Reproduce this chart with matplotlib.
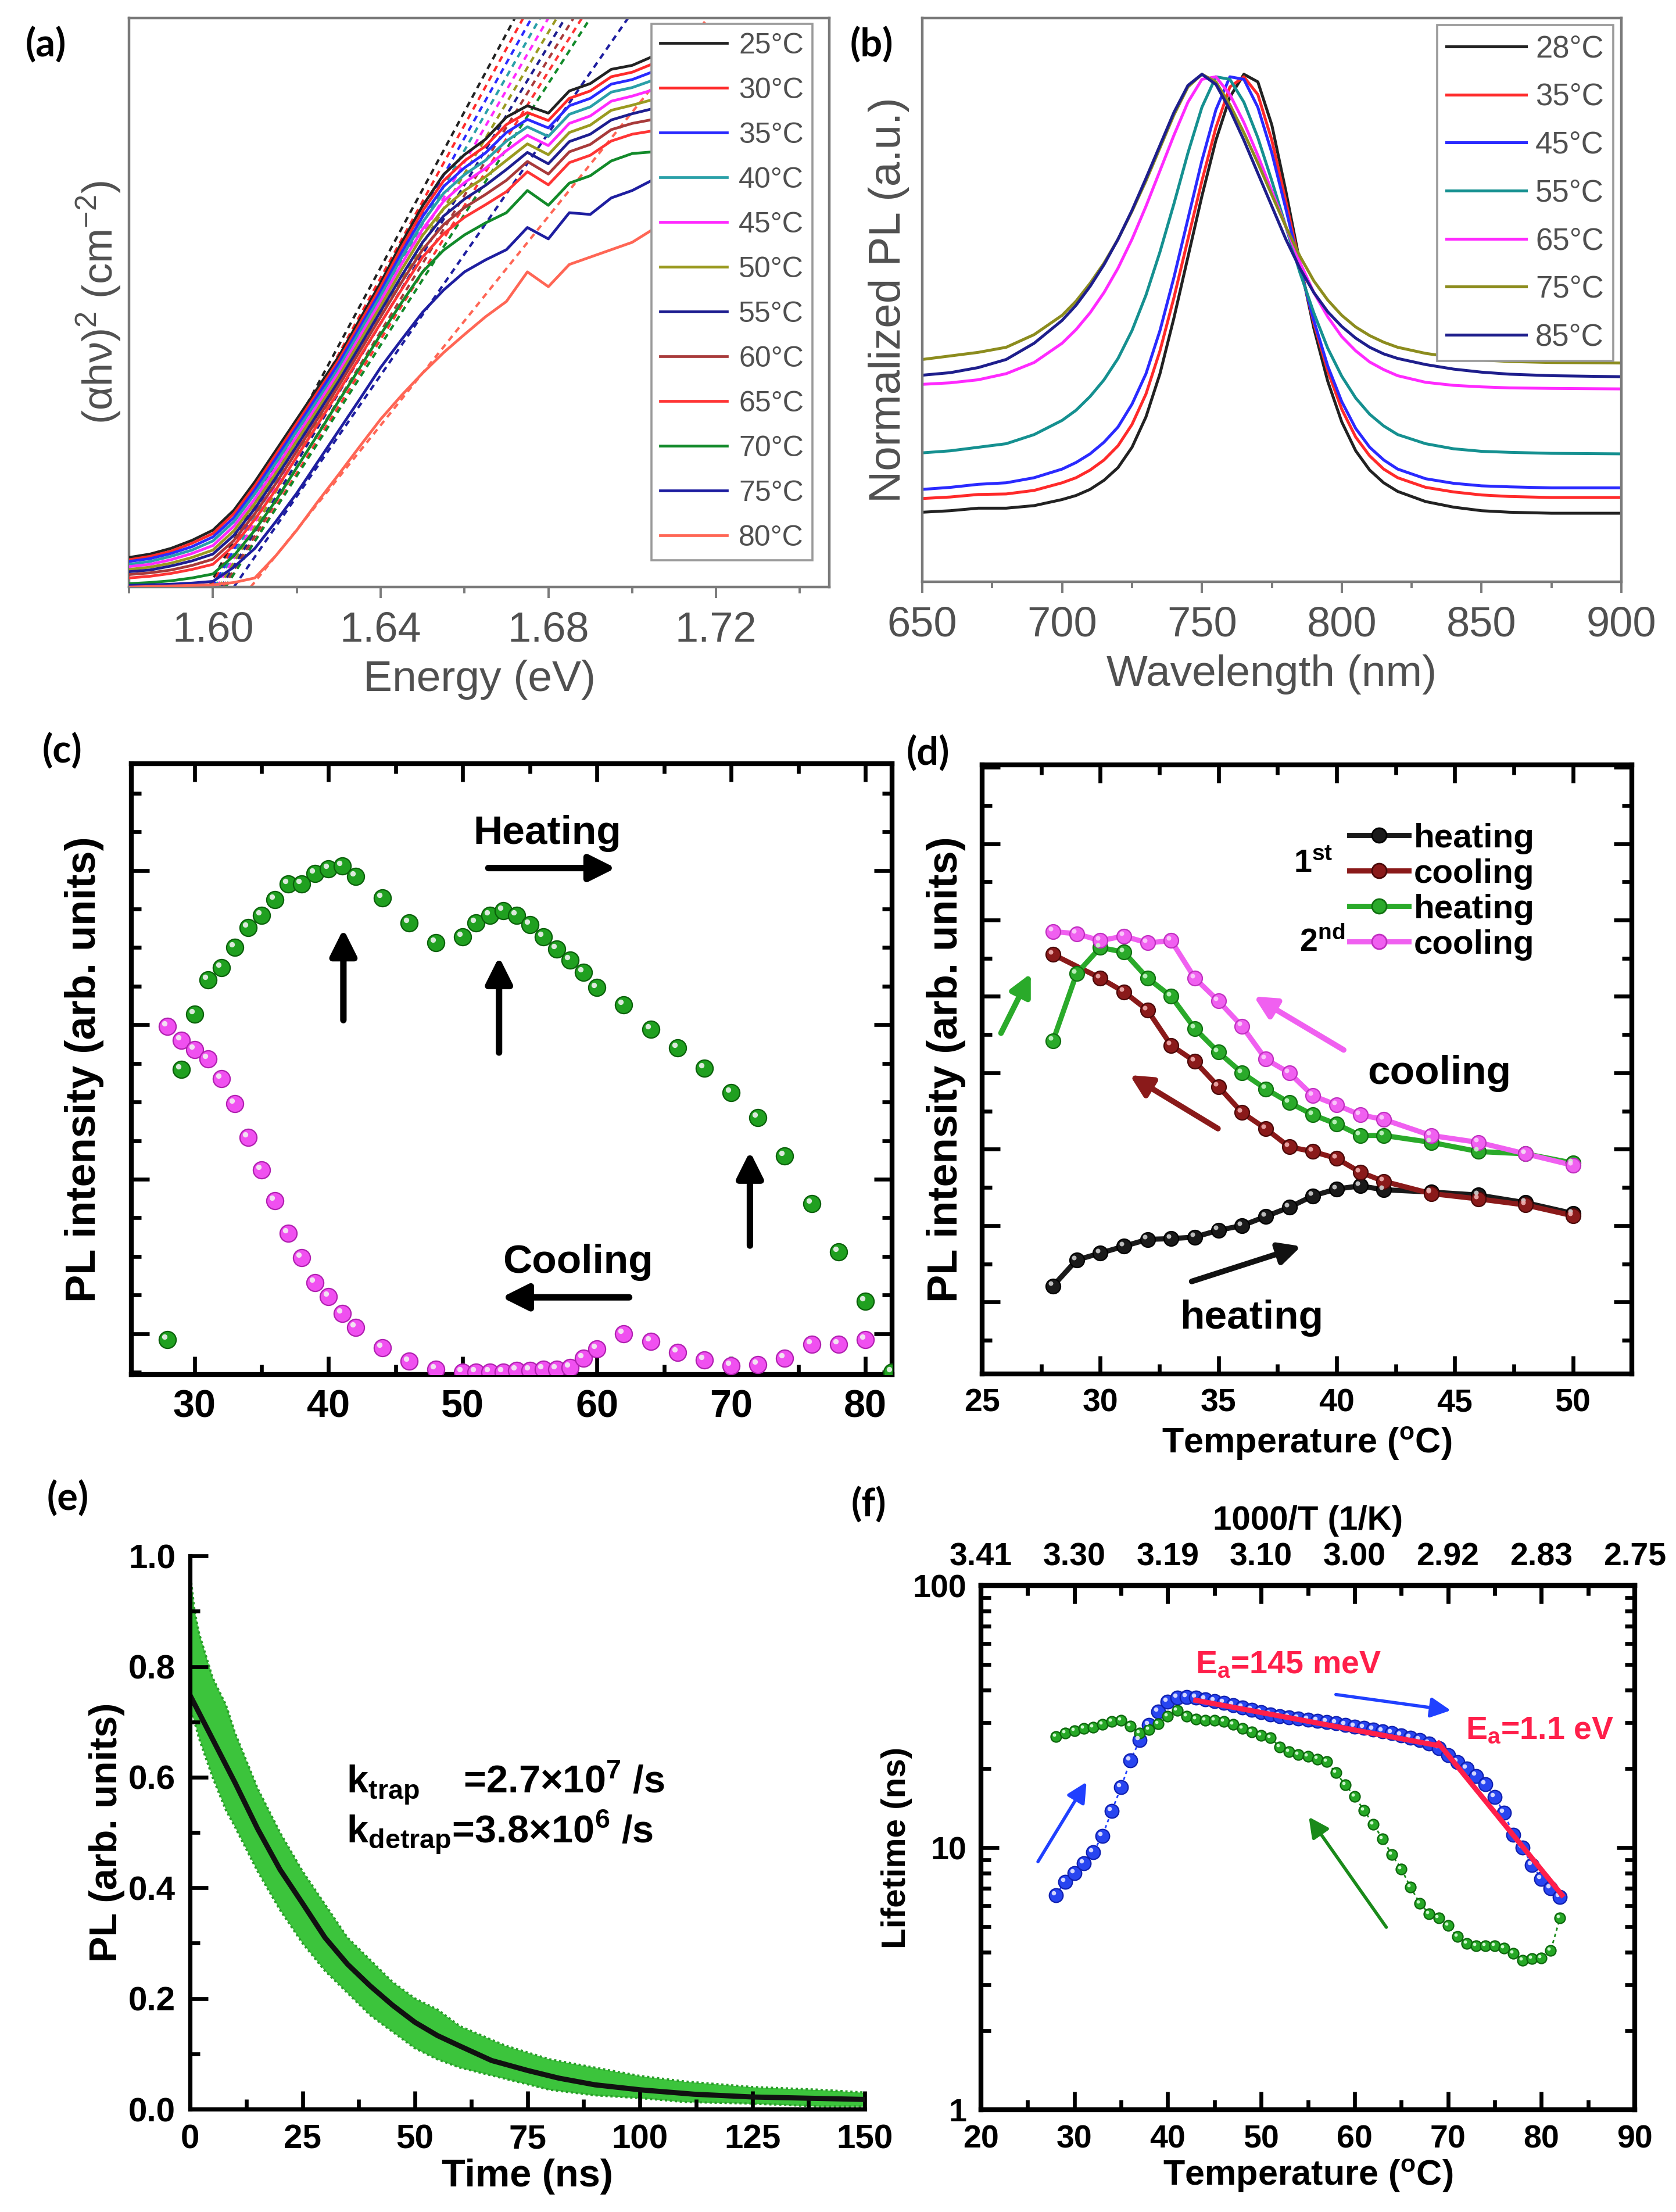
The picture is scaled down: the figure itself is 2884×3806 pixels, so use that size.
import numpy as np
import matplotlib
matplotlib.use("Agg")
import matplotlib.pyplot as plt
from matplotlib.transforms import offset_copy
from matplotlib.lines import Line2D
from matplotlib.ticker import MultipleLocator, FormatStrFormatter, LogLocator, NullFormatter

plt.rcParams['font.family'] = ['Liberation Sans', 'DejaVu Sans']
plt.rcParams['mathtext.fontset'] = 'custom'
plt.rcParams['mathtext.rm'] = 'Liberation Sans'
plt.rcParams['mathtext.it'] = 'Liberation Sans:italic'
plt.rcParams['mathtext.bf'] = 'Liberation Sans:bold'
plt.rcParams['mathtext.default'] = 'regular'

# ---------------- (a) Tauc plots ----------------
energy = [1.580, 1.585, 1.590, 1.595, 1.600, 1.605, 1.610, 1.615, 1.620, 1.625,
          1.630, 1.635, 1.640, 1.645, 1.650, 1.655, 1.660, 1.665, 1.670, 1.675,
          1.680, 1.685, 1.690, 1.695, 1.700, 1.705, 1.710]
a25 = [.052, .058, .068, .082, .100, .135, .185, .240, .295, .350, .405, .470, .535, .605, .670, .725, .760, .787, .826, .846, .833, .872, .885, .910, .917, .933, .920]
a30 = [.048, .054, .063, .077, .094, .129, .178, .233, .288, .343, .399, .463, .528, .597, .661, .714, .749, .775, .813, .834, .820, .859, .872, .897, .905, .920, .907]
a35 = [.045, .050, .059, .071, .088, .122, .171, .226, .281, .337, .393, .456, .520, .588, .651, .704, .737, .763, .799, .822, .807, .846, .859, .884, .892, .906, .894]
a40 = [.040, .045, .054, .065, .081, .115, .164, .218, .274, .329, .385, .449, .512, .579, .641, .692, .725, .750, .784, .809, .792, .831, .844, .870, .878, .891, .879]
a45 = [.036, .040, .048, .059, .073, .107, .155, .209, .265, .321, .378, .440, .503, .568, .629, .678, .711, .736, .767, .794, .776, .815, .828, .854, .863, .874, .863]
a50 = [.031, .035, .042, .052, .065, .099, .147, .200, .257, .313, .370, .432, .494, .558, .618, .665, .697, .721, .750, .779, .760, .799, .812, .838, .847, .857, .847]
a55 = [.027, .030, .037, .046, .058, .091, .138, .192, .248, .305, .362, .423, .485, .547, .606, .652, .682, .706, .734, .764, .744, .783, .796, .821, .832, .841, .831]
a60 = [.022, .025, .030, .038, .049, .082, .129, .182, .239, .296, .354, .414, .475, .536, .593, .637, .667, .690, .715, .748, .726, .765, .778, .804, .815, .822, .813]
a65 = [.016, .019, .024, .031, .040, .073, .119, .171, .229, .286, .344, .404, .464, .523, .580, .621, .650, .672, .695, .730, .707, .746, .759, .784, .796, .802, .794]
a70 = [.006, .008, .011, .016, .023, .055, .100, .152, .210, .268, .327, .385, .444, .500, .554, .592, .619, .640, .658, .697, .671, .710, .723, .749, .762, .765, .758]
a75 = [.003, .004, .005, .007, .010, .035, .068, .115, .165, .220, .275, .330, .386, .435, .483, .522, .554, .575, .593, .632, .612, .658, .655, .684, .697, .716, .697]
a80 = [.000, .001, .002, .003, .004, .008, .016, .055, .100, .150, .198, .247, .295, .337, .376, .412, .444, .475, .502, .554, .528, .567, .580, .593, .606, .629, .619]
a_temps = [25, 30, 35, 40, 45, 50, 55, 60, 65, 70, 75, 80]
# linear fits: energy where each dashed line leaves y = 0 and where it reaches the top
fit_e0 = [1.599, 1.5995, 1.600, 1.6005, 1.601, 1.6015, 1.602, 1.6025, 1.603, 1.603, 1.605, 1.609]
fit_e1 = [1.672, 1.674, 1.676, 1.678, 1.680, 1.682, 1.684, 1.686, 1.688, 1.690, 1.699, 1.718]
a_colors = ['#222222', '#ff2a2a', '#2a2aff', '#2aa0a8', '#ff2aff', '#9a9a20',
            '#1e1e90', '#a83a3a', '#ff3535', '#128a2a', '#1e1ea0', '#ff6655']

# ---------------- (b) normalized PL ----------------
wl = [650, 660, 670, 680, 690, 700, 705, 710, 715, 720, 725, 730, 735, 740, 745, 750,
      755, 760, 765, 770, 775, 780, 785, 790, 795, 800, 805, 810, 815, 820, 830, 840,
      850, 860, 875, 900]
pl28 = [.137, .140, .145, .145, .150, .162, .170, .182, .200, .225, .265, .325, .410, .520, .640, .760, .870, .955, 1.0, .985, .900, .770, .630, .500, .395, .315, .258, .220, .195, .178, .158, .147, .140, .137, .135, .135]
pl35 = [.164, .167, .172, .173, .180, .195, .205, .220, .240, .268, .310, .370, .455, .560, .675, .790, .895, .975, .995, .960, .870, .750, .625, .510, .415, .340, .285, .248, .222, .205, .186, .177, .171, .168, .166, .166]
pl45 = [.182, .186, .192, .195, .205, .222, .235, .252, .275, .305, .350, .410, .495, .600, .715, .830, .930, .995, .990, .935, .845, .735, .620, .515, .425, .355, .302, .265, .240, .222, .203, .194, .189, .187, .185, .185]
pl55 = [.254, .258, .265, .272, .290, .318, .338, .365, .398, .440, .495, .565, .650, .745, .845, .935, .995, .990, .945, .875, .790, .700, .610, .530, .460, .405, .362, .330, .307, .290, .272, .262, .257, .255, .253, .252]
pl65 = [.389, .392, .398, .410, .432, .470, .497, .530, .570, .618, .675, .740, .810, .880, .945, .990, .995, .960, .905, .840, .770, .700, .630, .570, .522, .483, .455, .433, .418, .406, .393, .387, .384, .382, .381, .380]
pl75 = [.438, .445, .452, .462, .487, .525, .553, .588, .628, .675, .730, .790, .855, .920, .975, 1.0, .985, .940, .885, .825, .762, .700, .642, .593, .555, .525, .502, .485, .472, .462, .450, .442, .437, .434, .432, .431]
pl85 = [.407, .412, .422, .438, .470, .515, .545, .582, .625, .675, .732, .795, .860, .925, .978, 1.0, .980, .930, .870, .805, .740, .675, .618, .570, .532, .503, .480, .462, .449, .440, .428, .419, .413, .409, .406, .404]
b_temps = [28, 35, 45, 55, 65, 75, 85]
b_colors = ['#222222', '#ff2a2a', '#2a2aff', '#159090', '#ff2aff', '#8c8c1e', '#1e1e8c']

# ---------------- (c) PL intensity vs T ----------------
c_heat_T = [28, 29, 30, 31, 32, 33, 34, 35, 36, 37, 38, 39, 40, 41, 42, 44, 46, 48,
            50, 51, 52, 53, 54, 55, 56, 57, 58, 59, 60, 62, 64, 66, 68, 70, 72, 74,
            76, 78, 80, 82]
c_heat_I = [-0.04, 1.71, 2.07, 2.29, 2.37, 2.50, 2.63, 2.71, 2.81, 2.91, 2.91, 2.98,
            3.01, 3.03, 2.96, 2.82, 2.66, 2.53, 2.57, 2.66, 2.71, 2.74, 2.71, 2.65,
            2.57, 2.49, 2.42, 2.34, 2.24, 2.13, 1.97, 1.85, 1.72, 1.56, 1.40, 1.15,
            0.84, 0.53, 0.21, -0.25]
c_cool_T = [28, 29, 30, 31, 32, 33, 34, 35, 36, 37, 38, 39, 40, 41, 42, 44, 46, 48,
            50, 51, 52, 53, 54, 55, 56, 57, 58, 59, 60, 62, 64, 66, 68, 70, 72, 74,
            76, 78, 80]
c_cool_I = [1.99, 1.90, 1.84, 1.78, 1.65, 1.49, 1.27, 1.06, 0.86, 0.65, 0.49, 0.33,
            0.24, 0.13, 0.04, -0.09, -0.18, -0.23, -0.25, -0.25, -0.25, -0.25, -0.24,
            -0.24, -0.23, -0.23, -0.22, -0.16, -0.10, 0.00, -0.05, -0.12, -0.17,
            -0.21, -0.20, -0.16, -0.07, -0.07, -0.04]

# ---------------- (d) two heating/cooling cycles ----------------
d_T = [28, 29, 30, 31, 32, 33, 34, 35, 36, 37, 38, 39, 40, 41, 42, 44, 46, 48, 50]
d_heat1 = [1.21, 1.55, 1.64, 1.73, 1.82, 1.83, 1.85, 1.94, 2.00, 2.12, 2.24, 2.39,
           2.48, 2.52, 2.47, 2.44, 2.40, 2.30, 2.16]
d_T_cool1 = [28, 30, 31, 32, 33, 34, 35, 36, 37, 38, 39, 40, 41, 42, 44, 46, 48, 50]
d_cool1 = [5.55, 5.24, 5.06, 4.82, 4.36, 4.15, 3.82, 3.48, 3.27, 3.03, 2.97, 2.88,
           2.70, 2.58, 2.42, 2.35, 2.27, 2.13]
d_heat2 = [4.42, 5.30, 5.64, 5.58, 5.24, 5.00, 4.58, 4.27, 4.00, 3.79, 3.61, 3.45,
           3.33, 3.18, 3.18, 3.09, 2.97, 2.94, 2.82]
d_cool2 = [5.85, 5.82, 5.73, 5.79, 5.70, 5.73, 5.24, 4.94, 4.61, 4.18, 4.00, 3.70,
           3.58, 3.45, 3.39, 3.18, 3.09, 2.94, 2.79]

# ---------------- (e) PL decay ----------------
e_t = [0, 1, 2, 5, 8, 10, 15, 20, 25, 30, 35, 40, 45, 50, 55, 60, 70, 80, 90, 100,
       110, 125, 140, 150]
e_hi = [0.97, 0.90, 0.86, 0.78, 0.73, 0.68, 0.58, 0.50, 0.43, 0.37, 0.31, 0.27, 0.23,
        0.20, 0.18, 0.15, 0.115, 0.09, 0.075, 0.06, 0.05, 0.04, 0.035, 0.03]
e_lo = [0.72, 0.70, 0.67, 0.60, 0.54, 0.51, 0.43, 0.36, 0.30, 0.25, 0.21, 0.17, 0.14,
        0.11, 0.09, 0.075, 0.055, 0.035, 0.025, 0.02, 0.013, 0.01, 0.005, 0.005]
e_fit_t = [0, 5, 10, 15, 20, 25, 30, 35, 40, 45, 50, 55, 60, 67, 75, 82, 90, 100,
           112, 125, 150]
e_fit = [0.748, 0.669, 0.590, 0.507, 0.433, 0.372, 0.310, 0.262, 0.223, 0.188, 0.157,
         0.133, 0.114, 0.088, 0.070, 0.056, 0.044, 0.035, 0.027, 0.022, 0.0175]

# ---------------- (f) lifetime vs T ----------------
f_T = list(range(28, 83))
f_heat = [6.6, 7.4, 8.0, 8.7, 9.6, 11.1, 13.8, 17.0, 21.5, 25.7, 29.4, 33.0, 36.0,
          37.3, 37.5, 37.3, 36.8, 36.2, 35.6, 35.0, 34.3, 33.5, 32.8, 32.2, 31.8,
          31.4, 31.1, 30.8, 30.5, 30.2, 29.8, 29.4, 29.0, 28.6, 28.2, 27.8, 27.3,
          26.8, 26.3, 25.7, 25.0, 24.0, 22.5, 21.2, 20.0, 18.8, 17.5, 15.6, 13.6,
          11.2, 10.0, 8.6, 7.6, 7.0, 6.5]
f_cool = [26.5, 27.4, 27.9, 28.5, 28.8, 29.5, 30.3, 30.6, 29.1, 27.4, 28.2, 29.7,
          31.7, 33.4, 31.7, 30.9, 30.6, 30.6, 30.3, 29.5, 28.5, 27.6, 26.8, 26.3,
          24.2, 23.2, 22.7, 22.3, 21.8, 21.3, 19.3, 17.4, 15.7, 13.9, 12.3, 10.8,
          9.4, 8.3, 7.06, 6.12, 5.6, 5.4, 5.06, 4.58, 4.3, 4.22, 4.22, 4.22, 4.13,
          3.96, 3.72, 3.77, 3.8, 4.05, 5.4]
fit1_T, fit1_tau = [43, 69], [36.5, 24.5]
fit2_T, fit2_tau = [69, 82.2], [25.0, 6.6]
top_T = [20, 30, 40, 50, 60, 70, 80, 90]
top_labels = ['3.41', '3.30', '3.19', '3.10', '3.00', '2.92', '2.83', '2.75']

fig = plt.figure(figsize=(14.42, 19.03), dpi=200)
GRAY = '#505050'
FRAME = '#7a7a7a'


def spheres(ax, x, y, face, edge, ms, hl='#f2f2f2', z=3):
    ax.plot(x, y, 'o', ms=ms, mfc=face, mec=edge, mew=0.8, ls='none', zorder=z)
    tr = offset_copy(ax.transData, fig=ax.figure, x=-ms * 0.17, y=ms * 0.17, units='points')
    ax.plot(x, y, 'o', ms=ms * 0.32, mfc=hl, mec='none', ls='none', alpha=0.9,
            transform=tr, zorder=z + 0.1)


def gray_style(ax):
    for s in ax.spines.values():
        s.set_color(FRAME)
        s.set_linewidth(1.6)
    ax.tick_params(axis='x', which='both', direction='out', color=FRAME,
                   labelcolor=GRAY, labelsize=26, width=1.4, pad=8)
    ax.tick_params(axis='x', which='major', length=7)
    ax.tick_params(axis='x', which='minor', length=4)
    ax.tick_params(axis='y', which='both', left=False, labelleft=False)


def bold_style(ax, lw=3.0, size=22):
    for s in ax.spines.values():
        s.set_linewidth(lw)
    ax.tick_params(which='both', direction='in', width=2.4, labelsize=size, pad=9)
    ax.tick_params(which='major', length=11)
    ax.tick_params(which='minor', length=6)
    for lab in ax.get_xticklabels() + ax.get_yticklabels():
        lab.set_fontweight('bold')


# ---- (a)
ax = fig.add_axes([0.077, 0.7346, 0.4178, 0.2572])
a_curves = [a25, a30, a35, a40, a45, a50, a55, a60, a65, a70, a75, a80]
for T, y, col, e0, e1 in zip(a_temps, a_curves, a_colors, fit_e0, fit_e1):
    ax.plot(energy, y, color=col, lw=1.7, label=f'{T}°C', zorder=3)
    ax.plot([e0, e1], [0, 1], color=col, lw=1.5, ls=(0, (2.5, 2)), zorder=2)
ax.set_xlim(1.58, 1.747)
ax.set_ylim(0, 1)
ax.xaxis.set_major_locator(MultipleLocator(0.04))
ax.xaxis.set_minor_locator(MultipleLocator(0.02))
ax.xaxis.set_major_formatter(FormatStrFormatter('%.2f'))
gray_style(ax)
ax.set_xlabel('Energy (eV)', fontsize=27, color=GRAY, labelpad=6)
ax.set_ylabel('(αhν)$^2$ (cm$^{-2}$)', fontsize=26, color=GRAY, labelpad=4)
leg = ax.legend(loc='upper right', bbox_to_anchor=(0.976, 0.99), fontsize=18,
                fancybox=False, framealpha=1, edgecolor='#9a9a9a', handlelength=2.3,
                labelspacing=0.62, borderaxespad=0, borderpad=0.3, handletextpad=0.4)
leg.get_frame().set_linewidth(1.3)
for t in leg.get_texts():
    t.set_color(GRAY)

# ---- (b)
ax = fig.add_axes([0.5503, 0.737, 0.4171, 0.2549])
b_curves = [pl28, pl35, pl45, pl55, pl65, pl75, pl85]
for T, y, col in zip(b_temps, b_curves, b_colors):
    ax.plot(wl, y, color=col, lw=1.8, label=f'{T}°C')
ax.set_xlim(650, 900)
ax.set_ylim(0, 1.111)
ax.xaxis.set_major_locator(MultipleLocator(50))
ax.xaxis.set_minor_locator(MultipleLocator(25))
gray_style(ax)
ax.set_xlabel('Wavelength (nm)', fontsize=27, color=GRAY, labelpad=6)
ax.set_ylabel('Normalized PL (a.u.)', fontsize=27.5, color=GRAY, labelpad=8)
leg = ax.legend(loc='upper right', bbox_to_anchor=(0.988, 0.987), fontsize=19,
                fancybox=False, framealpha=1, edgecolor='#9a9a9a', handlelength=2.6,
                labelspacing=0.62, borderaxespad=0, borderpad=0.3, handletextpad=0.3)
leg.get_frame().set_linewidth(1.3)
for t in leg.get_texts():
    t.set_color(GRAY)

# ---- (c)
ax = fig.add_axes([0.0784, 0.3786, 0.4539, 0.2761])
spheres(ax, c_cool_T, c_cool_I, '#f050f0', '#b020b0', 10.5)
spheres(ax, c_heat_T, c_heat_I, '#20a020', '#0a600a', 10.5)
ax.set_xlim(25.3, 82)
ax.set_ylim(-0.265, 3.69)
ax.xaxis.set_major_locator(MultipleLocator(10))
ax.xaxis.set_minor_locator(MultipleLocator(5))
ax.yaxis.set_major_locator(MultipleLocator(1))
ax.yaxis.set_minor_locator(MultipleLocator(0.25))
ax.tick_params(top=True, right=True, which='both')
ax.tick_params(axis='y', labelleft=False)
bold_style(ax, size=24)
ax.set_ylabel('PL intensity (arb. units)', fontsize=26, fontweight='bold', labelpad=8)
arr = dict(arrowstyle='-|>', lw=4, color='k', mutation_scale=34, shrinkA=0, shrinkB=0)
ax.annotate('', xy=(61.4, 3.015), xytext=(51.9, 3.015), arrowprops=arr)
ax.annotate('', xy=(52.9, 0.235), xytext=(62.4, 0.235), arrowprops=arr)
ax.annotate('', xy=(41.1, 2.62), xytext=(41.1, 2.03), arrowprops=arr)
ax.annotate('', xy=(52.7, 2.44), xytext=(52.7, 1.82), arrowprops=arr)
ax.annotate('', xy=(71.4, 1.18), xytext=(71.4, 0.57), arrowprops=arr)
ax.text(56.3, 3.24, 'Heating', fontsize=25, fontweight='bold', ha='center', va='center')
ax.text(58.6, 0.46, 'Cooling', fontsize=25, fontweight='bold', ha='center', va='center')

# ---- (d)
ax = fig.add_axes([0.586, 0.3789, 0.3877, 0.2753])
series_d = [(d_T, d_heat1, '#1a1a1a', '#000000', '#d0d0d0'),
            (d_T_cool1, d_cool1, '#8a1a1a', '#4a0808', '#f0b0b0'),
            (d_T, d_heat2, '#2aaa2a', '#107010', '#c8f5c8'),
            (d_T, d_cool2, '#f060f0', '#c030c0', '#fbd0fb')]
for xs, ys, col, edge, hl in series_d:
    ax.plot(xs, ys, color=col, lw=3.2, zorder=2)
for xs, ys, col, edge, hl in series_d:
    spheres(ax, xs, ys, col, edge, 9, hl=hl)
ax.set_xlim(25, 52.5)
ax.set_ylim(0.06, 8.03)
ax.xaxis.set_major_locator(MultipleLocator(5))
ax.xaxis.set_minor_locator(MultipleLocator(2.5))
ax.yaxis.set_major_locator(MultipleLocator(1))
ax.yaxis.set_minor_locator(MultipleLocator(0.5))
ax.tick_params(top=True, right=True, which='both')
ax.tick_params(axis='y', labelleft=False)
bold_style(ax, size=20)
ax.set_xlabel('Temperature ($^\\mathbf{o}$C)', fontsize=22, fontweight='bold', labelpad=4)
ax.set_ylabel('PL intensity (arb. units)', fontsize=26, fontweight='bold', labelpad=1)
handles = [Line2D([], [], color=c, lw=3.2, marker='o', ms=9, mfc=c, mec=e)
           for _, _, c, e, _ in series_d]
leg = ax.legend(handles, ['heating', 'cooling', 'heating', 'cooling'],
                loc='upper left', bbox_to_anchor=(0.565, 0.905), frameon=False,
                prop={'weight': 'bold', 'size': 21}, handlelength=1.75,
                handletextpad=0.15, labelspacing=0.12, borderaxespad=0, borderpad=0)
ax.text(39.0, 6.73, '1$^{\\mathbf{st}}$', fontsize=20, fontweight='bold', ha='center', va='center')
ax.text(39.4, 5.70, '2$^{\\mathbf{nd}}$', fontsize=20, fontweight='bold', ha='center', va='center')
ax.annotate('', xy=(27.06, 5.30), xytext=(25.8, 4.52),
            arrowprops=dict(arrowstyle='-|>', lw=3.5, color='#2aaa2a', mutation_scale=28, shrinkA=0, shrinkB=0))
ax.annotate('', xy=(31.25, 3.97), xytext=(34.98, 3.27),
            arrowprops=dict(arrowstyle='-|>', lw=3.5, color='#8a1a1a', mutation_scale=28, shrinkA=0, shrinkB=0))
ax.annotate('', xy=(36.5, 5.0), xytext=(40.3, 4.30),
            arrowprops=dict(arrowstyle='-|>', lw=3.5, color='#f060f0', mutation_scale=28, shrinkA=0, shrinkB=0))
ax.annotate('', xy=(38.5, 1.73), xytext=(33.87, 1.27),
            arrowprops=dict(arrowstyle='-|>', lw=3.5, color='#111111', mutation_scale=28, shrinkA=0, shrinkB=0))
ax.text(44.35, 3.99, 'cooling', fontsize=25, fontweight='bold', ha='center', va='center')
ax.text(36.4, 0.79, 'heating', fontsize=25, fontweight='bold', ha='center', va='center')

# ---- (e)
ax = fig.add_axes([0.1134, 0.0465, 0.4026, 0.2501])
ax.fill_between(e_t, e_lo, e_hi, color='#3cc43c', lw=0, zorder=1)
ax.plot(e_t, e_hi, color='#2a9e2a', lw=1.4, ls=(0, (1, 1.2)), zorder=1.5)
ax.plot(e_t, e_lo, color='#2a9e2a', lw=1.4, ls=(0, (1, 1.2)), zorder=1.5)
ax.plot(e_fit_t, e_fit, color='#111111', lw=3.2, zorder=2)
ax.set_xlim(0, 150)
ax.set_ylim(0, 1.0)
ax.spines['top'].set_visible(False)
ax.spines['right'].set_visible(False)
ax.xaxis.set_major_locator(MultipleLocator(25))
ax.xaxis.set_minor_locator(MultipleLocator(12.5))
ax.yaxis.set_major_locator(MultipleLocator(0.2))
ax.yaxis.set_minor_locator(MultipleLocator(0.1))
ax.yaxis.set_major_formatter(FormatStrFormatter('%.1f'))
bold_style(ax, lw=2.6, size=21)
ax.set_xlabel('Time (ns)', fontsize=24, fontweight='bold', labelpad=2)
ax.set_ylabel('PL (arb. units)', fontsize=24, fontweight='bold', labelpad=2)
ax.text(34.7, 0.59, 'k$_{\\mathbf{trap}}$    =2.7×10$^{\\mathbf{7}}$ /s', fontsize=24,
        fontweight='bold', ha='left', va='center')
ax.text(34.7, 0.50, 'k$_{\\mathbf{detrap}}$=3.8×10$^{\\mathbf{6}}$ /s', fontsize=24,
        fontweight='bold', ha='left', va='center')

# ---- (f)
ax = fig.add_axes([0.5853, 0.0462, 0.3901, 0.2370])
ax.plot(f_T, f_heat, color='#2040ff', lw=1.0, ls=(0, (2, 2)), zorder=2)
ax.plot(f_T, f_cool, color='#1a8a1a', lw=1.0, ls=(0, (2, 2)), zorder=2)
spheres(ax, f_T, f_heat, '#2845f0', '#1020b0', 8.5, hl='#e8e8ff')
spheres(ax, f_T, f_cool, '#26a826', '#0c660c', 6.5, hl='#e0ffe0')
ax.plot(fit1_T, fit1_tau, color='#ff1f4a', lw=3.2, zorder=5)
ax.plot(fit2_T, fit2_tau, color='#ff1f4a', lw=3.2, zorder=5)
ax.set_yscale('log')
ax.set_xlim(20, 90)
ax.set_ylim(1, 100)
ax.xaxis.set_major_locator(MultipleLocator(10))
ax.xaxis.set_minor_locator(MultipleLocator(5))
ax.yaxis.set_major_locator(LogLocator(base=10))
ax.yaxis.set_minor_locator(LogLocator(base=10, subs=np.arange(2, 10)))
ax.yaxis.set_minor_formatter(NullFormatter())
ax.yaxis.set_major_formatter(FormatStrFormatter('%d'))
ax.tick_params(right=True, which='both')
ax.tick_params(top=True, which='both')
bold_style(ax, size=20)
sec = ax.secondary_xaxis('top')
sec.set_xticks(top_T)
sec.set_xticklabels(top_labels)
sec.xaxis.set_minor_locator(MultipleLocator(5))
sec.tick_params(which='both', direction='in', width=2.4, labelsize=20, pad=8)
sec.tick_params(which='major', length=11)
sec.tick_params(which='minor', length=6)
for lab in sec.get_xticklabels():
    lab.set_fontweight('bold')
sec.spines['top'].set_linewidth(3.0)
sec.set_xlabel('1000/T (1/K)', fontsize=21, fontweight='bold', labelpad=8)
ax.set_xlabel('Temperature ($^\\mathbf{o}$C)', fontsize=22, fontweight='bold', labelpad=2)
ax.set_ylabel('Lifetime (ns)', fontsize=21, fontweight='bold', labelpad=0)
ax.annotate('', xy=(31.3, 17.8), xytext=(26.1, 8.84),
            arrowprops=dict(arrowstyle='-|>', lw=2, color='#2040ff', mutation_scale=26, shrinkA=0, shrinkB=0))
ax.annotate('', xy=(70.3, 33.4), xytext=(58.0, 38.4),
            arrowprops=dict(arrowstyle='-|>', lw=2, color='#2040ff', mutation_scale=26, shrinkA=0, shrinkB=0))
ax.annotate('', xy=(55.1, 13.1), xytext=(63.4, 4.97),
            arrowprops=dict(arrowstyle='-|>', lw=2, color='#1a8a1a', mutation_scale=26, shrinkA=0, shrinkB=0))
ax.text(52.9, 49.7, 'E$_{\\mathbf{a}}$=145 meV', fontsize=20, fontweight='bold',
        color='#ff1f4a', ha='center', va='center')
ax.text(79.8, 27.9, 'E$_{\\mathbf{a}}$=1.1 eV', fontsize=20, fontweight='bold',
        color='#ff1f4a', ha='center', va='center')

# panel letters
for lab, x, y in [('(a)', 79, 78), ('(b)', 1500, 78), ('(c)', 107, 1293),
                  ('(d)', 1597, 1297), ('(e)', 117, 2579), ('(f)', 1495, 2590)]:
    fig.text(x / 2884, 1 - y / 3806, lab, fontsize=24, fontweight='bold',
             family=['Lato', 'DejaVu Sans'], ha='center', va='center')

fig.savefig('out.png', dpi=200)
